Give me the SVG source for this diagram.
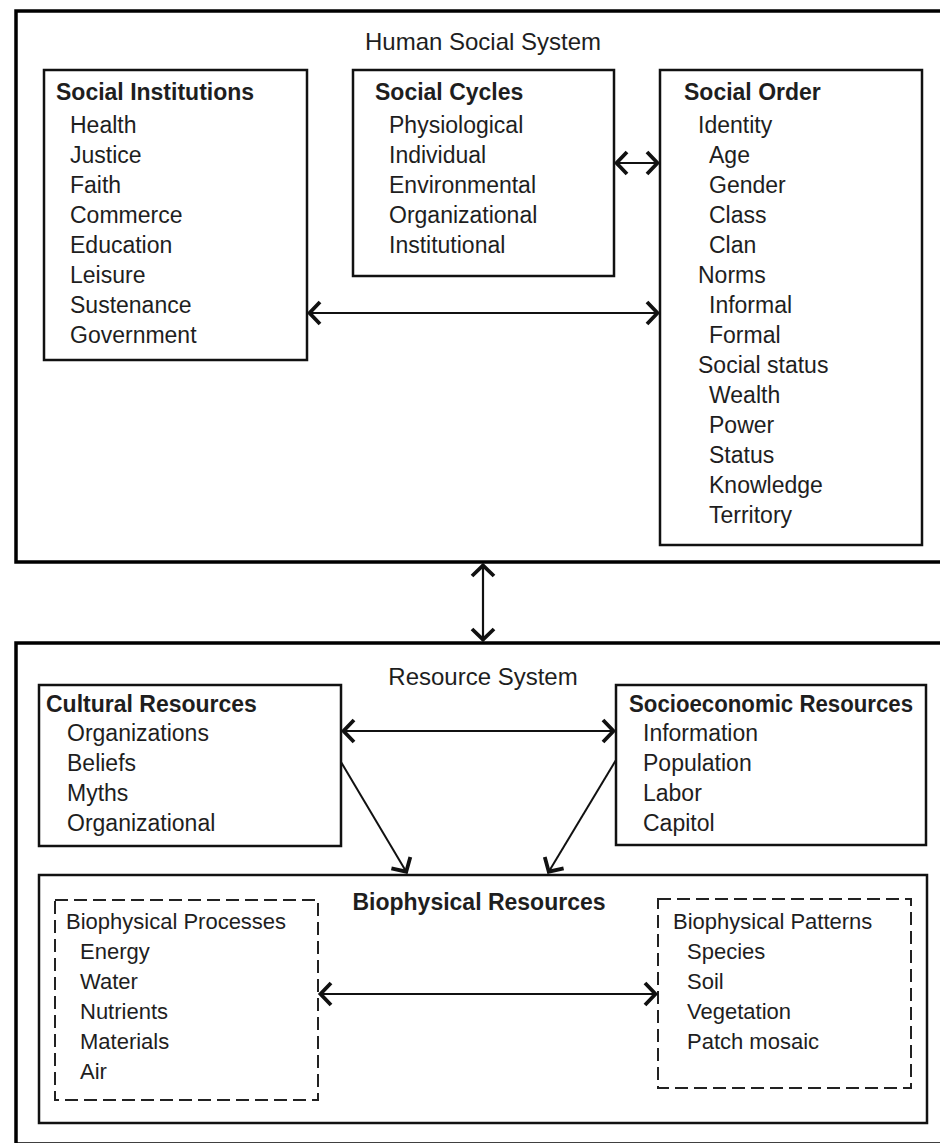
<svg xmlns="http://www.w3.org/2000/svg" width="940" height="1143" viewBox="0 0 940 1143">
<style>
text{font-family:"Liberation Sans",Arial,sans-serif;fill:#1e1e1e;font-size:23px}
.t{font-size:24px;text-anchor:middle}
.h{font-weight:bold}
.sub{font-size:22px}
.outer{fill:none;stroke:#000;stroke-width:3.5}
.box{fill:#fff;stroke:#111;stroke-width:2.5}
.dash{fill:none;stroke:#222;stroke-width:2;stroke-dasharray:13 6}
.con{stroke:#111;stroke-width:2.2;fill:none;marker-start:url(#ah);marker-end:url(#ah)}
.one{stroke:#111;stroke-width:2;fill:none;marker-end:url(#ah)}
</style>
<defs>
<marker id="ah" markerUnits="userSpaceOnUse" viewBox="-18 -15 22 30" markerWidth="22" markerHeight="30" refX="0" refY="0" orient="auto-start-reverse">
<path d="M-12,-11 L-1.5,0 L-12,11" fill="none" stroke="#111" stroke-width="3.8"/>
</marker>
</defs>
<rect width="940" height="1143" fill="#fff"/>

<g id="human-social-system">
<rect class="outer" x="16" y="11" width="940" height="551"/>
<text class="t" x="483" y="50">Human Social System</text>
</g>

<g id="social-institutions">
<rect class="box" x="44" y="70" width="263" height="290"/>
<text class="h" x="56" y="100">Social Institutions</text>
<text x="70" y="133">Health</text>
<text x="70" y="163">Justice</text>
<text x="70" y="193">Faith</text>
<text x="70" y="223">Commerce</text>
<text x="70" y="253">Education</text>
<text x="70" y="283">Leisure</text>
<text x="70" y="313">Sustenance</text>
<text x="70" y="343">Government</text>
</g>

<g id="social-cycles">
<rect class="box" x="353" y="70" width="261" height="206"/>
<text class="h" x="375" y="100">Social Cycles</text>
<text x="389" y="133">Physiological</text>
<text x="389" y="163">Individual</text>
<text x="389" y="193">Environmental</text>
<text x="389" y="223">Organizational</text>
<text x="389" y="253">Institutional</text>
</g>

<g id="social-order">
<rect class="box" x="660" y="70" width="262" height="475"/>
<text class="h" x="684" y="100">Social Order</text>
<text x="698" y="133">Identity</text>
<text x="709" y="163">Age</text>
<text x="709" y="193">Gender</text>
<text x="709" y="223">Class</text>
<text x="709" y="253">Clan</text>
<text x="698" y="283">Norms</text>
<text x="709" y="313">Informal</text>
<text x="709" y="343">Formal</text>
<text x="698" y="373">Social status</text>
<text x="709" y="403">Wealth</text>
<text x="709" y="433">Power</text>
<text x="709" y="463">Status</text>
<text x="709" y="493">Knowledge</text>
<text x="709" y="523">Territory</text>
</g>

<g id="resource-system">
<rect class="outer" x="16" y="643" width="940" height="501"/>
<text class="t" x="483" y="685">Resource System</text>
</g>

<g id="cultural-resources">
<rect class="box" x="39" y="685" width="302" height="161"/>
<text class="h" x="46" y="712">Cultural Resources</text>
<text x="67" y="741">Organizations</text>
<text x="67" y="771">Beliefs</text>
<text x="67" y="801">Myths</text>
<text x="67" y="831">Organizational</text>
</g>

<g id="socioeconomic-resources">
<rect class="box" x="616" y="685" width="310" height="160"/>
<text class="h" x="629" y="712" textLength="284" lengthAdjust="spacingAndGlyphs">Socioeconomic Resources</text>
<text x="643" y="741">Information</text>
<text x="643" y="771">Population</text>
<text x="643" y="801">Labor</text>
<text x="643" y="831">Capitol</text>
</g>

<g id="biophysical-resources">
<rect class="box" x="39" y="875" width="888" height="248"/>
<text class="h" x="479" y="910" text-anchor="middle">Biophysical Resources</text>
</g>

<g id="biophysical-processes">
<rect class="dash" x="55" y="900" width="263" height="200"/>
<text class="sub" x="66" y="929">Biophysical Processes</text>
<text class="sub" x="80" y="959">Energy</text>
<text class="sub" x="80" y="989">Water</text>
<text class="sub" x="80" y="1019">Nutrients</text>
<text class="sub" x="80" y="1049">Materials</text>
<text class="sub" x="80" y="1079">Air</text>
</g>

<g id="biophysical-patterns">
<rect class="dash" x="658" y="899" width="253" height="189"/>
<text class="sub" x="673" y="929">Biophysical Patterns</text>
<text class="sub" x="687" y="959">Species</text>
<text class="sub" x="687" y="989">Soil</text>
<text class="sub" x="687" y="1019">Vegetation</text>
<text class="sub" x="687" y="1049">Patch mosaic</text>
</g>

<g id="connectors">
<line class="con" x1="615" y1="163" x2="659" y2="163"/>
<line class="con" x1="308" y1="313" x2="659" y2="313"/>
<line class="con" x1="483" y1="564" x2="483" y2="641"/>
<line class="con" x1="342" y1="731" x2="615" y2="731"/>
<line class="one" x1="341" y1="762" x2="407" y2="873"/>
<line class="one" x1="616" y1="760" x2="548" y2="873"/>
<line class="con" x1="319" y1="994" x2="657" y2="994"/>
</g>
</svg>
